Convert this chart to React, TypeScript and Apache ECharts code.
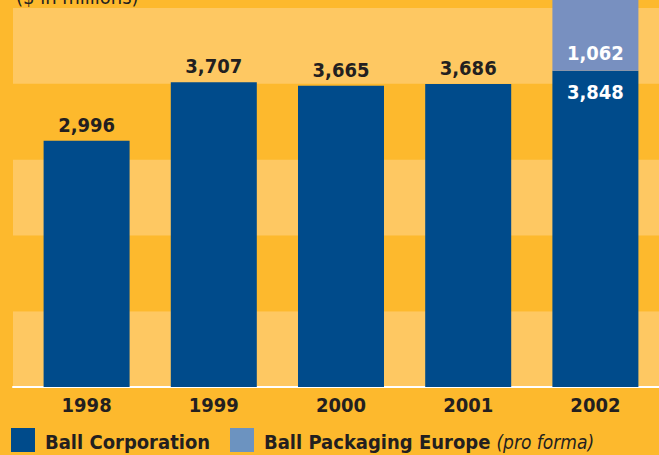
import React, { useEffect, useRef } from "react";
import * as echarts from "echarts";

const years = ["1998", "1999", "2000", "2001", "2002"];
const ballCorporation = [2996, 3707, 3665, 3686, 3848];
const ballPackagingEurope = [null, null, null, null, 1062];
const seriesNames = ["Ball Corporation", "Ball Packaging Europe"];
const noteText = "(pro forma)";
const unitTitle = "($ in millions)";

const FONT = '"DejaVu Sans Condensed", "Liberation Sans Narrow", sans-serif';
const ORANGE = "#FDB92D";
const LIGHT = "#FEC862";
const DARK_BLUE = "#004B8B";
const LIGHT_BLUE = "#7890C0";
const LEGEND_LIGHT_BLUE = "#6C93C0";
const TEXT = "#231F20";

const fmt = (v: number) => v.toLocaleString("en-US");

export default function App() {
  const ref = useRef<HTMLDivElement>(null);
  useEffect(() => {
    if (!ref.current) return;
    const chart = echarts.init(ref.current, null, { renderer: "svg" });
    const yMax = 4610;
    const yInt = 922;
    const lastIdx = years.length - 1;
    const legendBase = {
      top: 428,
      padding: 0,
      itemWidth: 24,
      itemHeight: 24,
      icon: "rect",
      textStyle: {
        padding: [4, 0, 0, 5],
        rich: {
          b: { fontFamily: FONT, fontSize: 20, fontWeight: "bold", color: TEXT },
          i: {
            fontFamily: FONT,
            fontSize: 19,
            fontStyle: "italic",
            fontWeight: "normal",
            color: TEXT,
            padding: [0, 0, 0, 6],
          },
        },
      },
    };
    chart.setOption({
      animation: false,
      backgroundColor: ORANGE,
      title: {
        text: unitTitle,
        left: 11,
        top: -18,
        textStyle: { fontFamily: FONT, fontSize: 20, fontWeight: "normal", color: TEXT },
      },
      grid: [
        { left: 13, right: 0, top: 8, bottom: 68 },
        { left: 23, right: -1, top: 8, bottom: 68 },
      ],
      xAxis: [
        {
          gridIndex: 0,
          type: "category",
          data: [""],
          offset: 2,
          axisLine: { show: true, lineStyle: { color: "#FFFFFF", width: 2 } },
          axisTick: { show: false },
          axisLabel: { show: false },
        },
        {
          gridIndex: 1,
          type: "category",
          data: years,
          axisLine: { show: false },
          axisTick: { show: false },
          axisLabel: {
            margin: 8,
            fontFamily: FONT,
            fontSize: 20,
            fontWeight: "bold",
            color: TEXT,
          },
        },
      ],
      yAxis: [
        {
          gridIndex: 0,
          type: "value",
          min: 0,
          max: yMax,
          interval: yInt,
          axisLine: { show: false },
          axisTick: { show: false },
          axisLabel: { show: false },
          splitLine: { show: false },
          splitArea: { show: true, areaStyle: { color: [LIGHT, ORANGE] } },
        },
        {
          gridIndex: 1,
          type: "value",
          min: 0,
          max: yMax,
          interval: yInt,
          show: false,
          splitLine: { show: false },
        },
      ],
      legend: [
        {
          ...legendBase,
          left: 11,
          data: [{ name: seriesNames[0], itemStyle: { color: DARK_BLUE } }],
          formatter: (name: string) => `{b|${name}}`,
        },
        {
          ...legendBase,
          left: 230,
          data: [{ name: seriesNames[1], itemStyle: { color: LEGEND_LIGHT_BLUE } }],
          formatter: (name: string) => `{b|${name}}{i|${noteText}}`,
        },
      ],
      series: [
        {
          name: seriesNames[0],
          type: "bar",
          xAxisIndex: 1,
          yAxisIndex: 1,
          stack: "total",
          barWidth: 86,
          clip: false,
          itemStyle: { color: DARK_BLUE },
          label: {
            show: true,
            position: "top",
            distance: 6,
            fontFamily: FONT,
            fontSize: 20,
            fontWeight: "bold",
            color: TEXT,
            formatter: (p: any) => fmt(p.value),
          },
          data: ballCorporation.map((v, i) =>
            i === lastIdx
              ? { value: v, label: { position: "insideTop", distance: 11, color: "#FFFFFF" } }
              : v
          ),
        },
        {
          name: seriesNames[1],
          type: "bar",
          xAxisIndex: 1,
          yAxisIndex: 1,
          stack: "total",
          barWidth: 86,
          clip: false,
          itemStyle: { color: LIGHT_BLUE },
          label: {
            show: true,
            position: "insideBottom",
            distance: 8,
            fontFamily: FONT,
            fontSize: 20,
            fontWeight: "bold",
            color: "#FFFFFF",
            formatter: (p: any) => (p.value == null ? "" : fmt(p.value)),
          },
          data: ballPackagingEurope,
        },
      ],
    });
    return () => chart.dispose();
  }, []);
  return (
    <div
      ref={ref}
      style={{ position: "absolute", left: 0, top: 0, width: 659, height: 455 }}
    />
  );
}
